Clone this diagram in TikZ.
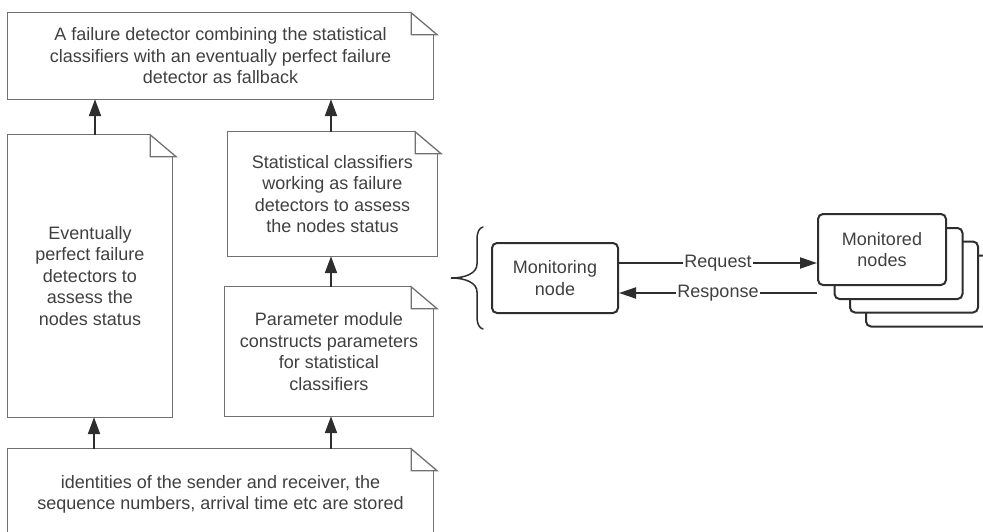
\documentclass[tikz,border=0pt]{standalone}
\usepackage{fontspec}
\setmainfont{Liberation Sans}
\usetikzlibrary{arrows.meta}
\definecolor{txt}{HTML}{404040}
\definecolor{noteln}{HTML}{707070}
\definecolor{dark}{HTML}{2E2E2E}
\newcommand\notedraw[1]{%
  \draw[noteline] ([xshift=-22pt]#1.north east) -- (#1.north west) -- (#1.south west) -- (#1.south east) -- ([yshift=-22pt]#1.north east);
  \draw[noteline] ([xshift=-22pt]#1.north east) -- ([xshift=4pt,yshift=-22pt]#1.north east) -- ([xshift=-22pt,yshift=-22pt]#1.north east) -- cycle;}
\begin{document}
\begin{tikzpicture}[x=1pt,y=-1pt,
  every node/.style={font=\fontsize{18}{21.5}\selectfont, text=txt},
  notebox/.style n args={2}{draw=none, inner sep=0pt, align=center, minimum width=#1, minimum height=#2},
  noteline/.style={draw=noteln, line width=1.3pt, line join=miter},
  arr/.style={draw=dark, line width=2.2pt, -{Triangle[length=17pt 0 0,width=12pt 0 0]}},
  arrh/.style={draw=dark, line width=2pt, -{Triangle[length=17pt 0 0,width=11pt 0 0]}},
  lbl/.style={fill=white, inner sep=1.5pt},
  nodebox/.style={draw=dark, line width=2pt, rounded corners=5pt, fill=white, align=center, inner sep=0pt, minimum width=128pt, minimum height=71pt}]
\useasboundingbox (0,0) rectangle (983,532);
\clip (0,0) rectangle (983,532);

% note boxes
\node[notebox={425pt}{86pt}] (top) at (220.5,56) {A failure detector combining the statistical\\classifiers with an eventually perfect failure\\detector as fallback};
\node[notebox={164pt}{282pt}] (left) at (90,276) {Eventually\\perfect failure\\detectors to\\assess the\\nodes status};
\node[notebox={209pt}{124pt}] (mu) at (332.5,194) {Statistical classifiers\\working as failure\\detectors to assess\\the nodes status};
\node[notebox={208pt}{129pt}] (ml) at (329,351.5) {Parameter module\\constructs parameters\\for statistical\\classifiers};
\node[notebox={425pt}{91pt}] (bot) at (220.5,494.5) {identities of the sender and receiver, the\\sequence numbers, arrival time etc are stored};
\notedraw{top}
\notedraw{left}
\notedraw{mu}
\notedraw{ml}
\notedraw{bot}

% vertical arrows
\draw[arr] ([xshift=5pt]left.north) -- ([xshift=5pt]left.north |- top.south);
\draw[arr] ([xshift=-1.5pt]mu.north) -- ([xshift=-1.5pt]mu.north |- top.south);
\draw[arr] ([xshift=2pt]ml.north) -- ([xshift=2pt]ml.north |- mu.south);
\draw[arr] ([xshift=4pt]left.south |- bot.north) -- ([xshift=4pt]left.south);
\draw[arr] ([xshift=2pt]ml.south |- bot.north) -- ([xshift=2pt]ml.south);

% brace
\draw[draw=dark, line width=1.5pt, line cap=round]
  (483,227) .. controls (479,228) and (477,232) .. (477,240) -- (477,264)
  .. controls (477,273) and (466,278) .. (451,278)
  .. controls (466,278) and (477,283) .. (477,292) -- (477,316)
  .. controls (477,324) and (479,328) .. (483,329);

% monitoring node
\node[nodebox, minimum width=126pt, minimum height=70pt] (mon) at (555,278) {Monitoring\\node};

% monitored nodes stack
\node[nodebox] (mD) at (930,291) {};
\node[nodebox] (mC) at (914,277) {};
\node[nodebox] (mB) at (898.5,263.5) {};
\node[nodebox] (mA) at (882,249.5) {Monitored\\nodes};

% request / response
\draw[arrh] ([yshift=15pt]mon.east) -- ([yshift=15pt]mon.east -| mA.west) node[midway,lbl] {Request};
\draw[arrh] ([yshift=-15pt]mon.east -| mA.west) -- ([yshift=-15pt]mon.east) node[midway,lbl] {Response};
\end{tikzpicture}
\end{document}
